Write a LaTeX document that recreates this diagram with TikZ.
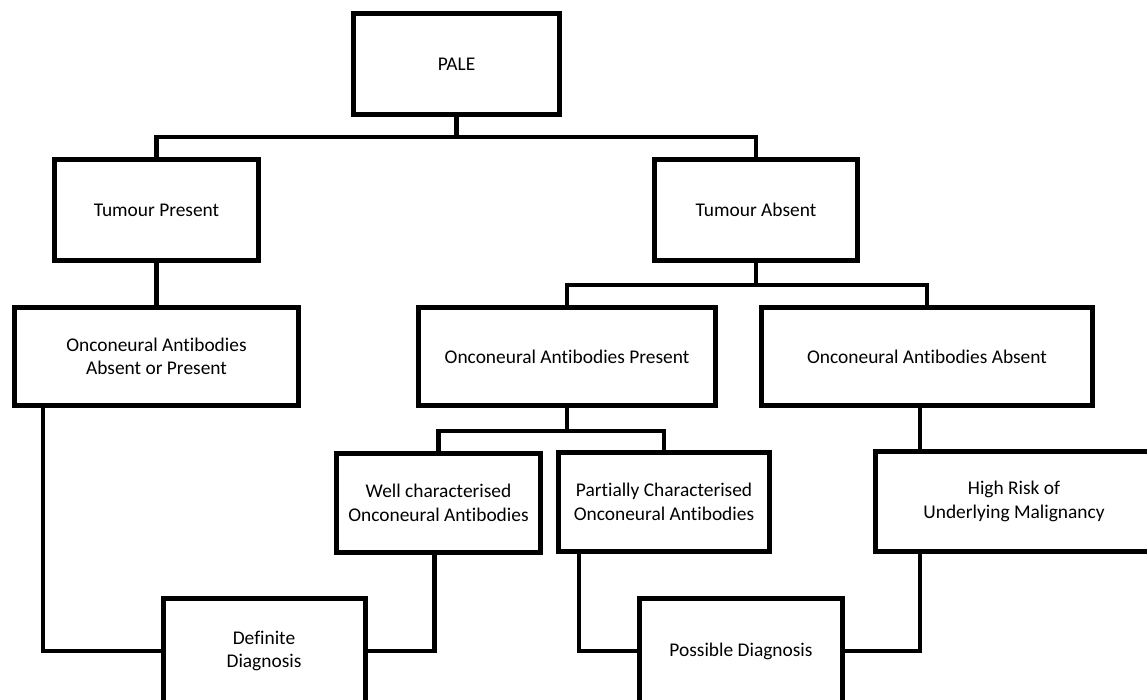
\documentclass[tikz,border=0pt]{standalone}
\usepackage{fontspec}
\setmainfont{Carlito}[Ligatures=CommonOff]
\begin{document}
\begin{tikzpicture}[x=1pt,y=-1pt,
    box/.style = {draw,line width=5pt,rectangle,inner sep=0pt,align=center,
                  font=\fontsize{19.4}{23.5}\selectfont},
    link/.style = {line width=4.5pt}]
    \useasboundingbox (0,0) rectangle (1147,700);
    % boxes
    \node[box,minimum width=206pt,minimum height=101pt] (pale) at (456.5,64) {PALE};
    \node[box,minimum width=204pt,minimum height=101pt] (tpres) at (156.5,210) {Tumour Present};
    \node[box,minimum width=203pt,minimum height=101pt] (tabs) at (756,210) {Tumour Absent};
    \node[box,minimum width=284pt,minimum height=98pt] (oaap) at (156.5,356.5) {Onconeural Antibodies\\Absent or Present};
    \node[box,minimum width=297pt,minimum height=98pt] (oap) at (567,356.5) {Onconeural Antibodies Present};
    \node[box,minimum width=331pt,minimum height=98pt] (oaa) at (927,356.5) {Onconeural Antibodies Absent};
    \node[box,minimum width=204pt,minimum height=99pt] (well) at (438.5,503) {Well characterised\\Onconeural Antibodies};
    \node[box,minimum width=211pt,minimum height=99pt] (part) at (664,502) {Partially Characterised\\Onconeural Antibodies};
    \node[box,minimum width=277pt,minimum height=100pt] (hrisk) at (1014,501.5) {High Risk of\\Underlying Malignancy};
    \node[box,minimum width=202pt,minimum height=106pt] (defdx) at (264,651) {Definite\\Diagnosis};
    \node[box,minimum width=203pt,minimum height=106pt] (posdx) at (741,651) {Possible Diagnosis};
    % branching bars
    \coordinate (barA) at (456.5,137);
    \coordinate (barB) at (756,285);
    \coordinate (barC) at (567,431);
    \draw[link] (pale.south) -- (barA);
    \draw[link] (tpres.north) |- (barA) -| (tabs.north);
    \draw[link] (tpres.south) -- (oaap.north);
    \draw[link] (tabs.south) -- (barB);
    \draw[link] (oap.north) |- (barB) -| (oaa.north);
    \draw[link] (oap.south) -- (barC);
    \draw[link] (well.north) |- (barC) -| (part.north);
    \draw[link] ([xshift=47pt]hrisk.north west) -- ([xshift=47pt]hrisk.north west |- oaa.south);
    % into the diagnoses
    \draw[link] ([xshift=31pt]oaap.south west) |- (defdx.west);
    \draw[link] ([xshift=-4pt]well.south) |- (defdx.east);
    \draw[link] ([xshift=23pt]part.south west) |- (posdx.west);
    \draw[link] ([xshift=47pt]hrisk.south west) |- (posdx.east);
\end{tikzpicture}
\end{document}
